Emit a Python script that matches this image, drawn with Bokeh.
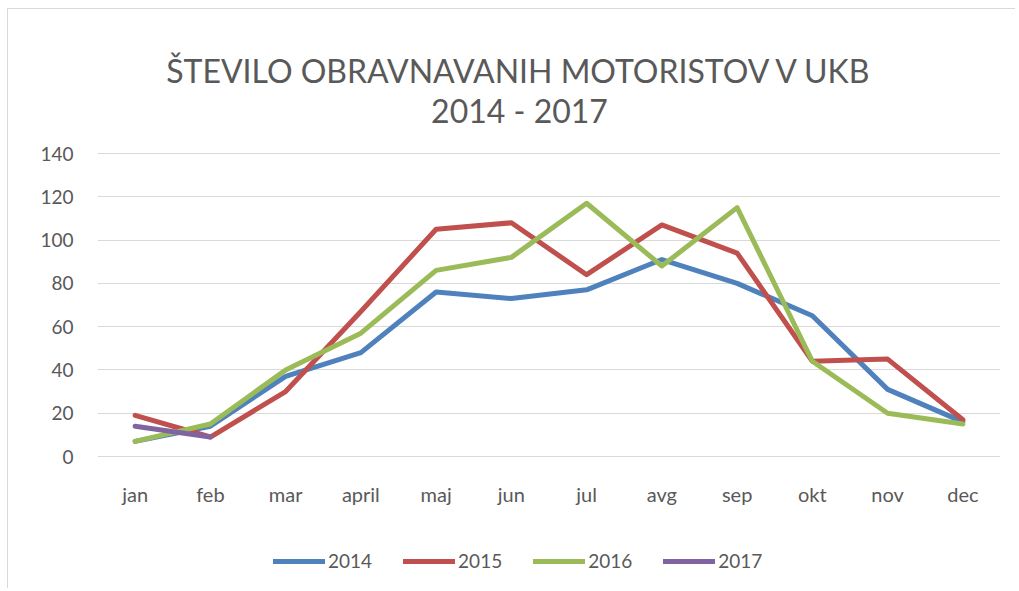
from bokeh.plotting import figure
from bokeh.models import Range1d, FixedTicker, Legend, LegendItem, Label
from bokeh.embed import file_html
from bokeh.resources import INLINE

months = ["jan", "feb", "mar", "april", "maj", "jun", "jul", "avg", "sep", "okt", "nov", "dec"]
y2014 = [7, 14, 37, 48, 76, 73, 77, 91, 80, 65, 31, 16]
y2015 = [19, 9, 30, 67, 105, 108, 84, 107, 94, 44, 45, 17]
y2016 = [7, 15, 40, 57, 86, 92, 117, 88, 115, 44, 20, 15]
months2017 = ["jan", "feb"]
y2017 = [14, 9]
series_names = ["2014", "2015", "2016", "2017"]
colors = ["#4F81BD", "#C0504D", "#9BBB59", "#8064A2"]
y_ticks = [0, 20, 40, 60, 80, 100, 120, 140]
title_line1 = "ŠTEVILO OBRAVNAVANIH MOTORISTOV V UKB"
title_line2 = "2014 - 2017"

FONT = "Lato"
GRAY = "#595959"

# frame spans the whole canvas height; value axis keeps 0..140 on its ticks,
# the extra range leaves room for title (top) and category labels + legend (bottom)
PX_PER_UNIT = 303 / 140.0
y_lo = -133 / PX_PER_UNIT
y_hi = 140 + 144 / PX_PER_UNIT

p = figure(width=1008, height=580, x_range=months, y_range=Range1d(y_lo, y_hi),
           output_backend="svg", toolbar_location=None,
           min_border_left=89, min_border_right=16, min_border_top=0, min_border_bottom=0,
           styles={"margin-left": "7px", "margin-top": "8px",
                   "border-left": "1px solid #d9d9d9", "border-top": "1px solid #d9d9d9"})
p.outline_line_color = None
p.background_fill_color = "white"
p.border_fill_color = "white"

p.xgrid.grid_line_color = None
p.ygrid.grid_line_color = "#d9d9d9"
p.ygrid.grid_line_width = 1
p.yaxis.ticker = FixedTicker(ticks=y_ticks)
p.xaxis.fixed_location = 0

for ax in (p.xaxis, p.yaxis):
    ax.axis_line_color = None
    ax.major_tick_line_color = None
    ax.minor_tick_line_color = None
    ax.major_tick_out = 0
    ax.major_tick_in = 0
    ax.major_label_text_font = FONT
    ax.major_label_text_color = GRAY
p.yaxis.major_label_text_font_size = "19px"
p.xaxis.major_label_text_font_size = "20px"
p.yaxis.major_label_standoff = 24
p.xaxis.major_label_standoff = 25

ys = [y2014, y2015, y2016]
renderers = []
for col, yv in zip(colors[:3], ys):
    r = p.line(months, yv, line_color=col, line_width=5, line_cap="round", line_join="round")
    renderers.append(r)
r17 = p.line(months2017, y2017, line_color=colors[3], line_width=5, line_cap="round", line_join="round")
renderers.append(r17)

for txt, yy in ((title_line1, 519), (title_line2, 479)):
    p.add_layout(Label(x=422, y=yy, x_units="screen", y_units="screen", text=txt,
                       text_align="center", text_baseline="alphabetic", text_font=FONT,
                       text_font_size="32px", text_color=GRAY))

legend = Legend(items=[LegendItem(label=n, renderers=[r]) for n, r in zip(series_names, renderers)],
                orientation="horizontal", location=(176, 17),
                label_text_font=FONT, label_text_font_size="19px", label_text_color=GRAY,
                glyph_width=52, glyph_height=20, label_standoff=3, spacing=31,
                padding=0, margin=0, border_line_color=None, background_fill_alpha=0)
p.add_layout(legend, "center")

open("out.html", "w").write(file_html(p, INLINE))
